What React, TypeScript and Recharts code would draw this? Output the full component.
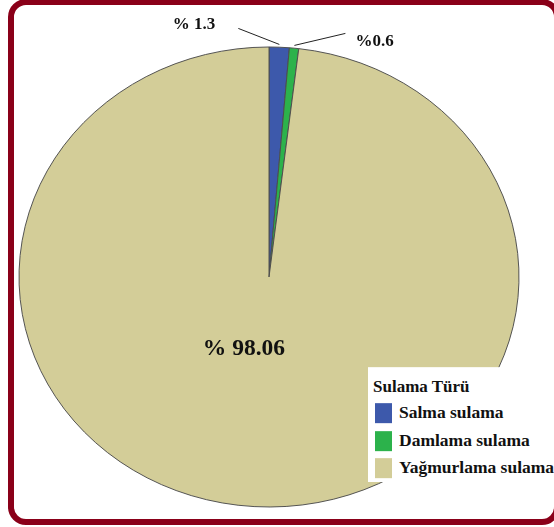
import { PieChart, Pie, Cell, Legend } from 'recharts';

const categories = ['Salma sulama', 'Damlama sulama', 'Yağmurlama sulama'];
const shares = [1.3, 0.6, 98.06];
const shareLabels = ['% 1.3', '%0.6', '% 98.06'];
const legendTitle = 'Sulama Türü';

const colors = ['#3D59AB', '#2CB24B', '#D3CD98'];

const pieData = categories.map((name, i) => ({ name, value: shares[i], label: shareLabels[i] }));

const W = 554;
const H = 527;
const PAD = 40;
const CX = 269;
const CY = 277;
const R = 250;
// the original pie is slightly squashed vertically
const SY = 230 / 250;
const RADIAN = Math.PI / 180;
const SERIF = '"Liberation Serif", "Times New Roman", serif';

// how each percent label sits relative to its slice
const labelLayout = [
  { lineDx: -41, lineDy: -16, textDx: -23, textDy: 1, anchor: 'end', size: 17 },
  { lineDx: 51, lineDy: -12, textDx: 10, textDy: 13, anchor: 'start', size: 17 },
  { inside: true, radius: 85, textDx: -20, anchor: 'middle', size: 23.5 },
];

const renderLabel = (props: any) => {
  const { cx, cy, midAngle, index } = props;
  const lay: any = labelLayout[index];
  const cos = Math.cos(-midAngle * RADIAN);
  const sin = Math.sin(-midAngle * RADIAN);
  const flat = (r: number) => ({ x: cx + r * cos, y: cy + r * sin * SY });
  let content;
  if (lay.inside) {
    const p = flat(lay.radius);
    content = (
      <text x={p.x + lay.textDx} y={p.y} textAnchor="middle" fontFamily={SERIF} fontWeight="bold"
        fontSize={lay.size} fill="#111">
        {pieData[index].label}
      </text>
    );
  } else {
    const s = flat(R + 3);
    const e = { x: s.x + lay.lineDx, y: s.y + lay.lineDy };
    content = (
      <g>
        <line x1={s.x} y1={s.y} x2={e.x} y2={e.y} stroke="#222" strokeWidth={1} />
        <text x={e.x + lay.textDx} y={e.y + lay.textDy} textAnchor={lay.anchor} fontFamily={SERIF}
          fontWeight="bold" fontSize={lay.size} fill="#111">
          {pieData[index].label}
        </text>
      </g>
    );
  }
  // undo the vertical squash for the text and leader lines
  return (
    <g transform={`translate(0 ${cy}) scale(1 ${1 / SY}) translate(0 ${-cy})`}>{content}</g>
  );
};

const renderLegend = () => (
  <div style={{ position: 'relative', width: 190, height: 115, background: '#fff',
    fontFamily: SERIF, fontWeight: 'bold', color: '#111',
    transform: `scaleY(${1 / SY})`, transformOrigin: '0 0' }}>
    <div style={{ position: 'absolute', left: 5, top: 11, fontSize: 17, lineHeight: '17px', whiteSpace: 'nowrap' }}>
      {legendTitle}
    </div>
    {categories.map((name, i) => (
      <div key={name}>
        <div style={{ position: 'absolute', left: 7, top: 36 + i * 27.5, width: 17, height: 20,
          background: colors[i] }} />
        <div style={{ position: 'absolute', left: 31, top: 37 + i * 27.5, fontSize: 17.5,
          lineHeight: '17px', whiteSpace: 'nowrap' }}>
          {name}
        </div>
      </div>
    ))}
  </div>
);

export default function App() {
  return (
    <div style={{ position: 'absolute', left: 0, top: 0, width: W, height: H, overflow: 'hidden', background: '#fff' }}>
      <div style={{ position: 'absolute', left: 8, top: -1, width: 552, height: 526, boxSizing: 'border-box',
        border: '6px solid #8A0019', borderRadius: 18 }} />
      <div style={{ position: 'absolute', left: 0, top: -PAD, transform: `scaleY(${SY})`,
        transformOrigin: `0 ${CY + PAD}px` }}>
        <PieChart width={W} height={H + 2 * PAD} margin={{ top: 0, right: 0, bottom: 0, left: 0 }}>
          <Pie
            data={pieData}
            dataKey="value"
            nameKey="name"
            cx={CX}
            cy={CY + PAD}
            outerRadius={R}
            startAngle={90}
            endAngle={-270}
            stroke="#4d4d4d"
            strokeWidth={1}
            label={renderLabel}
            labelLine={false}
            isAnimationActive={false}
          >
            {pieData.map((d, i) => (
              <Cell key={d.name} fill={colors[i]} />
            ))}
          </Pie>
          <Legend
            layout="vertical"
            align="right"
            verticalAlign="bottom"
            content={renderLegend}
            wrapperStyle={{ position: 'absolute', left: 368, top: CY + PAD + (367 - CY) / SY, width: 190,
              height: 115, bottom: 'auto', right: 'auto' }}
          />
        </PieChart>
      </div>
    </div>
  );
}
